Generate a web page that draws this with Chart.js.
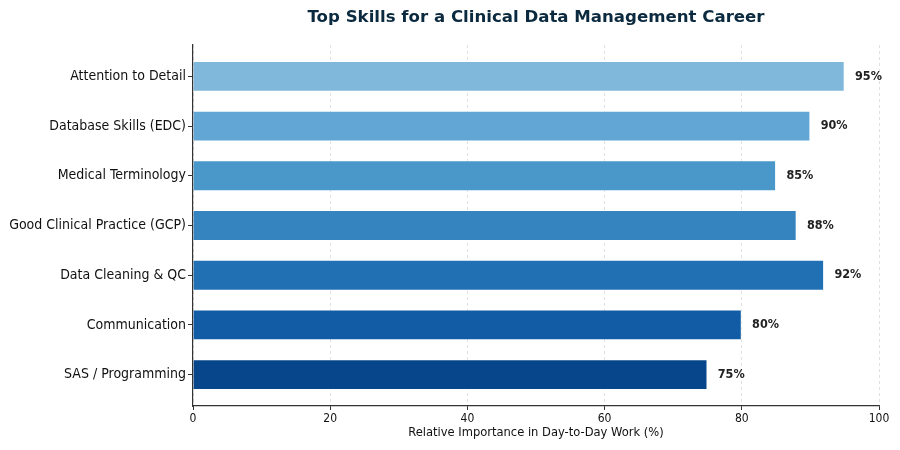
<!DOCTYPE html>
<html lang="en">
<head>
<meta charset="UTF-8" />
<title>Top Skills for a Clinical Data Management Career</title>
<script src="https://cdn.jsdelivr.net/npm/chart.js"></script>
<style>
  html, body { margin: 0; padding: 0; background: #fff; }
  #wrap { width: 900px; height: 450px; }
</style>
</head>
<body>
<div id="wrap"><canvas id="chart" width="900" height="450"></canvas></div>
<script>
const skills = [
  "Attention to Detail",
  "Database Skills (EDC)",
  "Medical Terminology",
  "Good Clinical Practice (GCP)",
  "Data Cleaning & QC",
  "Communication",
  "SAS / Programming"
];
const importance = [95, 90, 85, 88, 92, 80, 75];
const barColors = ["#7fb8da", "#62a6d5", "#4a97c9", "#3584c0", "#2170b4", "#115ca5", "#08468b"];
const xTicks = [0, 20, 40, 60, 80, 100];

const titleText = "Top Skills for a Clinical Data Management Career";
const condensed = "'DejaVu Sans Condensed', 'DejaVu Sans', sans-serif";

// value labels + title
const annotate = {
  id: "annotate",
  afterDatasetsDraw(chart) {
    const ctx = chart.ctx;
    const xs = chart.scales.x;
    const area = chart.chartArea;
    ctx.save();
    ctx.fillStyle = "#222";
    ctx.font = "bold 12.5px " + condensed;
    ctx.textBaseline = "middle";
    ctx.textAlign = "left";
    chart.getDatasetMeta(0).data.forEach((bar, i) => {
      ctx.fillText(importance[i] + "%", xs.getPixelForValue(importance[i] + 1.5), bar.y);
    });
    ctx.fillStyle = "#0b2a3f";
    ctx.font = "bold 16.6px 'DejaVu Sans', sans-serif";
    ctx.textAlign = "center";
    ctx.fillText(titleText, (area.left + area.right) / 2, 18);
    ctx.restore();
  }
};

new Chart(document.getElementById("chart"), {
  type: "bar",
  data: {
    datasets: [{
      data: importance.map((v, i) => ({ x: v, y: i })),
      backgroundColor: barColors,
      borderColor: "rgba(255,255,255,0.5)",
      borderWidth: 1,
      barPercentage: 0.62,
      categoryPercentage: 1
    }]
  },
  options: {
    indexAxis: "y",
    responsive: false,
    animation: false,
    layout: { padding: { top: 45, right: 21, left: 0, bottom: 0 } },
    plugins: { legend: { display: false }, tooltip: { enabled: false }, title: { display: false } },
    scales: {
      x: {
        type: "linear",
        min: 0,
        max: 100,
        afterBuildTicks: (s) => { s.ticks = xTicks.map(v => ({ value: v })); },
        afterFit: (s) => { s.height = 44; },
        grid: { color: "#d9d9d9", lineWidth: 0.8, tickColor: "#333", tickLength: 4, tickBorderDash: [], tickWidth: 1 },
        border: { display: true, color: "#333", width: 1.2, dash: [3, 3] },
        ticks: { color: "#111", font: { family: condensed, size: 12 }, padding: 2, maxRotation: 0 },
        title: { display: true, text: "Relative Importance in Day-to-Day Work (%)", color: "#111",
          font: { family: condensed, size: 12.8 }, padding: { top: 0, bottom: 10 } }
      },
      y: {
        type: "linear",
        reverse: true,
        offset: false,
        min: -0.63,
        max: 6.63,
        afterBuildTicks: (s) => { s.ticks = skills.map((_, i) => ({ value: i })); },
        afterFit: (s) => { s.width = 193; },
        grid: { offset: false, drawOnChartArea: false, tickColor: "#333", tickLength: 5, tickWidth: 1 },
        border: { display: true, color: "#333", width: 1.2 },
        ticks: { color: "#111", font: { family: condensed, size: 14 }, padding: 2, callback: (v) => skills[v] }
      }
    }
  },
  plugins: [annotate]
});
</script>
</body>
</html>
